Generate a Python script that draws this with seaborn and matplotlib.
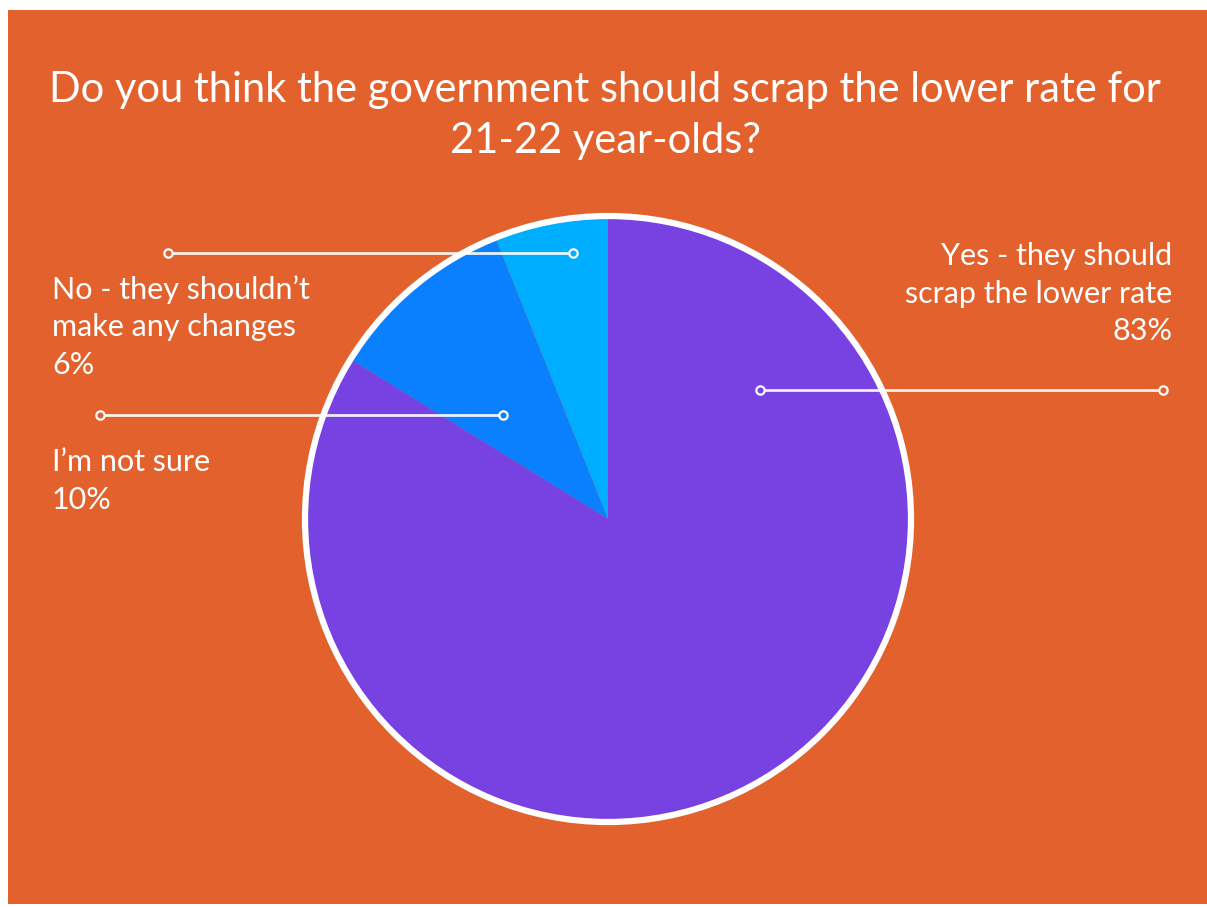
import matplotlib
matplotlib.use("Agg")
import matplotlib.pyplot as plt
from matplotlib.patches import Rectangle, Circle
import seaborn as sns

# Survey answers and shares (%)
answers = ["Yes - they should\nscrap the lower rate", "I’m not sure", "No - they shouldn’t\nmake any changes"]
shares = [83, 10, 6]
title_text = "Do you think the government should scrap the lower rate for\n21-22 year-olds?"

sns.set_style("white")
plt.rcParams["font.family"] = ["Lato", "DejaVu Sans"]

W, H = 1207, 907
BG = "#E2612C"
colors = sns.color_palette(["#7841E2", "#0A80FF", "#00AEFF"])

fig = plt.figure(figsize=(W / 100, H / 100), dpi=100, facecolor="white")
ax = fig.add_axes([0, 0, 1, 1])


def py(y):
    """Convert a top-down pixel row to the axes' bottom-up coordinate."""
    return H - y


# pie
cx, cy, r = 608, py(519), 303
ax.pie(shares, colors=colors, startangle=90, counterclock=False,
       center=(cx, cy), radius=r, frame=True,
       wedgeprops=dict(linewidth=0, zorder=2))
ax.set_xlim(0, W)
ax.set_ylim(0, H)
ax.set_aspect("equal")
ax.axis("off")

# orange panel
ax.add_patch(Rectangle((8, py(904)), W - 8, 894, facecolor=BG, edgecolor="none", zorder=0))
ax.add_patch(Circle((cx, cy), r, fill=False, edgecolor="white", linewidth=4.5, zorder=3))

# title (anchored on the baseline of its last line)
ax.text(605, py(153), title_text, ha="center", va="baseline", color="white",
        fontsize=30, linespacing=1.42, zorder=5)


# leader lines with hollow ring ends
def leader(x1, x2, y, face1, face2):
    ax.plot([x1, x2], [py(y), py(y)], color="white", lw=2, alpha=0.9, zorder=4,
            solid_capstyle="butt")
    ax.plot([x1], [py(y)], marker="o", ms=6, mfc=face1, mec="white", mew=1.6, zorder=5)
    ax.plot([x2], [py(y)], marker="o", ms=6, mfc=face2, mec="white", mew=1.6, zorder=5)


leader(760, 1163, 390, colors[0], BG)
leader(100, 503, 415, BG, colors[1])
leader(168, 573, 253, BG, colors[2])

# slice labels
lab_kw = dict(color="white", fontsize=22, linespacing=1.42, zorder=5)
ax.text(1172, py(242), f"{answers[0]}\n{shares[0]}%", ha="right", va="top", **lab_kw)
ax.text(52, py(275), f"{answers[2]}\n{shares[2]}%", ha="left", va="top", **lab_kw)
ax.text(52, py(448), f"{answers[1]}\n{shares[1]}%", ha="left", va="top", **lab_kw)

fig.savefig("out.png", dpi=100, facecolor="white")
